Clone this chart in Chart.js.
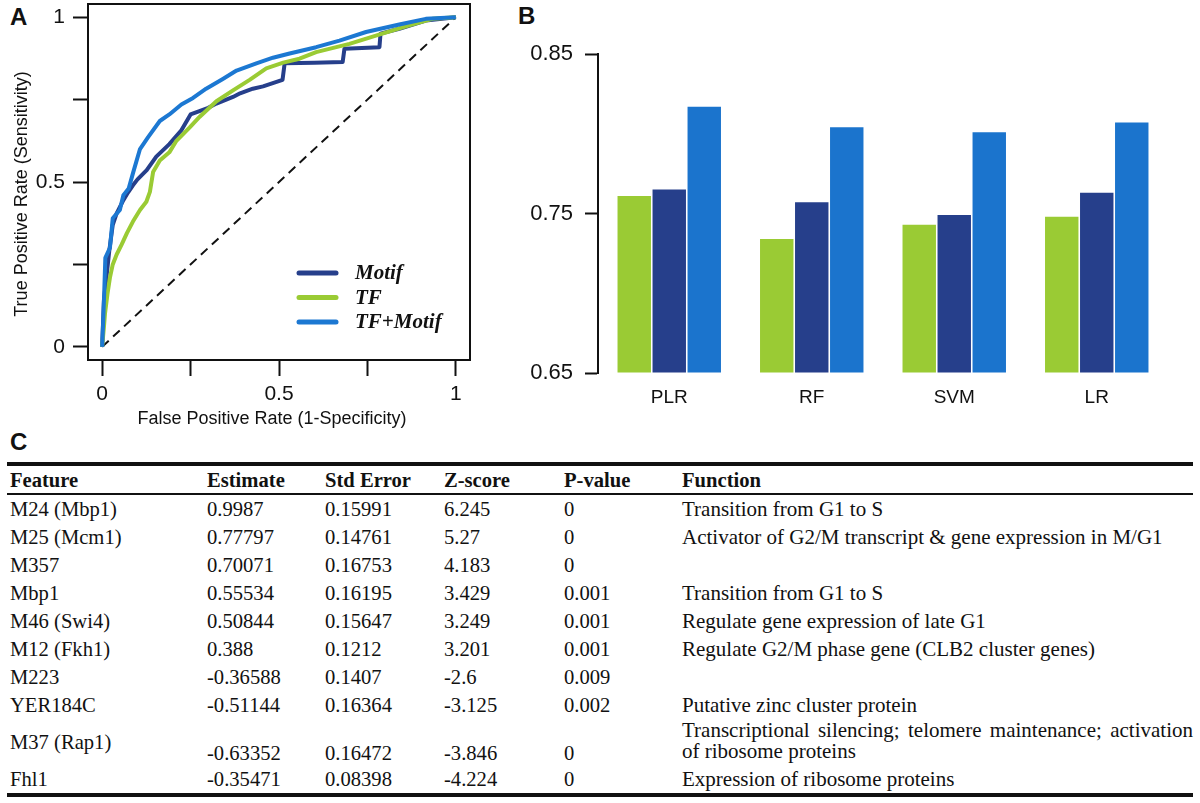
<!DOCTYPE html>
<html>
<head>
<meta charset="utf-8">
<script src="https://cdn.jsdelivr.net/npm/chart.js@4.4.1/dist/chart.umd.min.js"></script>
<style>
  html, body { margin: 0; padding: 0; background: #fff; }
  body { width: 1200px; height: 803px; position: relative; overflow: hidden; }
  .panel { position: absolute; font-family: 'Liberation Sans', Arial, sans-serif; font-weight: bold; font-size: 24px; line-height: 24px; color: #111; }
  canvas { position: absolute; }
  #rocChart { left: 0; top: 0; }
  #aucChart { left: 500px; top: 0; }
  #coefTable { position: absolute; left: 7px; top: 462px; width: 1186px; border-collapse: separate; border-spacing: 0; table-layout: fixed;
               font-family: 'Liberation Serif', 'Times New Roman', serif; font-size: 20.6px; color: #111; }
  #coefTable th, #coefTable td { padding: 0; text-align: left; white-space: nowrap; }
  #coefTable th { font-weight: bold; border-top: 4px solid #111; border-bottom: 2px solid #111; }
  #coefTable th div { padding: 2px 0 0 3px; height: 25px; line-height: 25px; }
  #coefTable td div.cell { padding-left: 3px; height: 28px; line-height: 28px; }
  #coefTable td div.fn { font-size: 21px; }
  #coefTable tr.tall td div.cell { height: 46px; line-height: 46px; }
  #coefTable tr.tall td div.low { padding-top: 22px; height: 24px; line-height: 24px; }
  #coefTable tr.tall td div.multi { padding-top: 1px; height: 45px; line-height: 21px; }
  #coefTable tr.tall td div.multi div.j { text-align: justify; text-align-last: justify; }
  #coefTable tr.last td { border-bottom: 4px solid #111; }
</style>
</head>
<body>
<div class="panel" style="left:10px; top:5px;">A</div>
<div class="panel" style="left:518px; top:4px;">B</div>
<div class="panel" style="left:10px; top:430px;">C</div>
<canvas id="rocChart" width="480" height="432"></canvas>
<canvas id="aucChart" width="700" height="430"></canvas>
<table id="coefTable"></table>
<script>
const GREEN = '#9acb34';
const NAVY = '#263f8b';
const BLUE = '#1c78d2';
const INK = '#111';
const SANS = "'Liberation Sans', Arial, Helvetica, sans-serif";
const SERIF = "'Liberation Serif', 'Times New Roman', serif";

// panel A - ROC curves, [false positive rate, true positive rate]
const motifRoc = [[0,0],[0.005,0.14],[0.013,0.22],[0.02,0.29],[0.03,0.37],[0.041,0.405],[0.06,0.445],
  [0.073,0.468],[0.087,0.49],[0.1,0.508],[0.126,0.536],[0.153,0.577],[0.19,0.615],[0.224,0.657],[0.25,0.705],
  [0.3,0.725],[0.323,0.738],[0.37,0.758],[0.39,0.769],[0.426,0.783],[0.455,0.79],[0.51,0.81],[0.516,0.86],
  [0.6,0.862],[0.68,0.864],[0.685,0.904],[0.784,0.909],[0.787,0.95],[0.84,0.965],[0.915,0.99],[1,1]];
const tfRoc = [[0,0],[0.005,0.06],[0.008,0.1],[0.015,0.16],[0.022,0.21],[0.03,0.25],[0.041,0.28],[0.055,0.31],
  [0.07,0.345],[0.087,0.38],[0.107,0.415],[0.125,0.44],[0.135,0.47],[0.144,0.53],[0.163,0.565],[0.19,0.59],
  [0.21,0.625],[0.247,0.665],[0.276,0.698],[0.323,0.745],[0.37,0.778],[0.417,0.81],[0.464,0.845],[0.512,0.862],
  [0.558,0.874],[0.605,0.894],[0.699,0.919],[0.774,0.944],[0.868,0.975],[0.934,0.995],[1,1]];
const bothRoc = [[0,0],[0.003,0.08],[0.006,0.17],[0.009,0.27],[0.022,0.3],[0.03,0.39],[0.05,0.415],[0.06,0.46],
  [0.075,0.48],[0.088,0.53],[0.107,0.6],[0.13,0.636],[0.163,0.685],[0.19,0.705],[0.224,0.735],[0.257,0.755],
  [0.294,0.783],[0.34,0.812],[0.38,0.838],[0.436,0.86],[0.483,0.877],[0.53,0.89],[0.605,0.909],[0.671,0.929],
  [0.746,0.955],[0.84,0.978],[0.915,0.995],[1,1]];
const chanceLine = [[0,0],[1,1]];
const rocTicks = [0, 0.25, 0.5, 0.75, 1];
const rocLabelled = [0, 0.5, 1];
const rocXTitle = 'False Positive Rate (1-Specificity)';
const rocYTitle = 'True Positive Rate (Sensitivity)';

// panel B - AUC per method
const methods = ['PLR', 'RF', 'SVM', 'LR'];
const aucTF = [0.761, 0.734, 0.743, 0.748];
const aucMotif = [0.765, 0.757, 0.749, 0.763];
const aucBoth = [0.817, 0.804, 0.801, 0.807];
const aucTicks = [0.65, 0.75, 0.85];

// panel C - coefficient table
const tableHeader = ['Feature', 'Estimate', 'Std Error', 'Z-score', 'P-value', 'Function'];
const features = ['M24 (Mbp1)', 'M25 (Mcm1)', 'M357', 'Mbp1', 'M46 (Swi4)', 'M12 (Fkh1)', 'M223', 'YER184C', 'M37 (Rap1)', 'Fhl1'];
const estimates = ['0.9987', '0.77797', '0.70071', '0.55534', '0.50844', '0.388', '-0.36588', '-0.51144', '-0.63352', '-0.35471'];
const stdErrors = ['0.15991', '0.14761', '0.16753', '0.16195', '0.15647', '0.1212', '0.1407', '0.16364', '0.16472', '0.08398'];
const zScores = ['6.245', '5.27', '4.183', '3.429', '3.249', '3.201', '-2.6', '-3.125', '-3.846', '-4.224'];
const pValues = ['0', '0', '0', '0.001', '0.001', '0.001', '0.009', '0.002', '0', '0'];
const functions = [
  'Transition from G1 to S',
  'Activator of G2/M transcript & gene expression in M/G1',
  '',
  'Transition from G1 to S',
  'Regulate gene expression of late G1',
  'Regulate G2/M phase gene (CLB2 cluster genes)',
  '',
  'Putative zinc cluster protein',
  'Transcriptional silencing; telomere maintenance; activation\nof ribosome proteins',
  'Expression of ribosome proteins'
];
const colWidths = [197, 118, 119, 120, 118, 514];

Chart.defaults.font.family = SANS;
Chart.defaults.color = INK;

const toXY = arr => arr.map(p => ({ x: p[0], y: p[1] }));

// R style box around the plot region
const boxFrame = {
  id: 'boxFrame',
  afterDatasetsDraw(chart) {
    const { ctx, chartArea: a } = chart;
    ctx.save();
    ctx.strokeStyle = INK;
    ctx.lineWidth = 2;
    ctx.strokeRect(a.left, a.top, a.right - a.left, a.bottom - a.top);
    ctx.restore();
  }
};

// axis titles, placed a little off-centre like the original figure
const rocTitles = {
  id: 'rocTitles',
  afterDraw(chart) {
    const ctx = chart.ctx;
    ctx.save();
    ctx.font = '18px ' + SANS;
    ctx.fillStyle = INK;
    ctx.textAlign = 'center';
    ctx.textBaseline = 'middle';
    ctx.fillText(rocXTitle, 272, 419);
    ctx.translate(22, 194);
    ctx.rotate(-Math.PI / 2);
    ctx.fillText(rocYTitle, 0, 0);
    ctx.restore();
  }
};

// legend sitting inside the plot, bottom right
const insideLegend = {
  id: 'insideLegend',
  afterDraw(chart) {
    const ctx = chart.ctx;
    const items = chart.data.datasets.filter(d => d.label);
    ctx.save();
    ctx.font = 'italic bold 21px ' + SERIF;
    ctx.textBaseline = 'middle';
    items.forEach((d, i) => {
      const y = 273 + i * 24.5;
      ctx.strokeStyle = d.borderColor;
      ctx.lineWidth = 5;
      ctx.lineCap = 'round';
      ctx.beginPath();
      ctx.moveTo(299, y);
      ctx.lineTo(336, y);
      ctx.stroke();
      ctx.fillStyle = INK;
      ctx.fillText(d.label, 355, y + 1);
    });
    ctx.restore();
  }
};

function rocLine(label, pts, color, order) {
  return { label: label, data: toXY(pts), borderColor: color, borderWidth: 4, pointRadius: 0,
           tension: 0, fill: false, order: order, borderJoinStyle: 'round' };
}

new Chart(document.getElementById('rocChart'), {
  type: 'line',
  data: {
    datasets: [
      rocLine('Motif', motifRoc, NAVY, 3),
      rocLine('TF', tfRoc, GREEN, 2),
      rocLine('TF+Motif', bothRoc, BLUE, 1),
      { label: '', data: toXY(chanceLine), borderColor: INK, borderWidth: 2, borderDash: [9, 6],
        pointRadius: 0, fill: false, order: 4 }
    ]
  },
  options: {
    responsive: false,
    animation: false,
    devicePixelRatio: 1,
    layout: { padding: { top: 4, right: 10, left: 0, bottom: 0 } },
    plugins: { legend: { display: false }, tooltip: { enabled: false } },
    scales: {
      x: {
        type: 'linear', min: -0.04, max: 1.04,
        afterBuildTicks: s => { s.ticks = rocTicks.map(v => ({ value: v })); },
        afterFit: s => { s.height = 72; s.paddingLeft = 0; s.paddingRight = 0; },
        grid: { drawOnChartArea: false, tickLength: 16, tickWidth: 2, tickColor: INK },
        border: { display: true, color: INK, width: 2 },
        ticks: { autoSkip: false, maxRotation: 0, padding: 6, font: { size: 21 }, color: INK,
                 callback: v => rocLabelled.includes(v) ? String(v) : '' }
      },
      y: {
        type: 'linear', min: -0.04, max: 1.04,
        afterBuildTicks: s => { s.ticks = rocTicks.map(v => ({ value: v })); },
        afterFit: s => { s.width = 88; s.paddingTop = 0; s.paddingBottom = 0; },
        grid: { drawOnChartArea: false, tickLength: 15, tickWidth: 2, tickColor: INK },
        border: { display: true, color: INK, width: 2 },
        ticks: { autoSkip: false, padding: 8, font: { size: 21 }, color: INK,
                 callback: v => rocLabelled.includes(v) ? String(v) : '' }
      }
    }
  },
  plugins: [boxFrame, rocTitles, insideLegend]
});

new Chart(document.getElementById('aucChart'), {
  type: 'bar',
  data: {
    labels: methods,
    datasets: [
      { label: 'TF', data: aucTF, backgroundColor: GREEN },
      { label: 'Motif', data: aucMotif, backgroundColor: NAVY },
      { label: 'TF+Motif', data: aucBoth, backgroundColor: '#1b74cd' }
    ]
  },
  options: {
    responsive: false,
    animation: false,
    devicePixelRatio: 1,
    layout: { padding: { top: 54, right: 32, left: 0, bottom: 0 } },
    datasets: { bar: { base: 0.65, categoryPercentage: 0.737, barPercentage: 0.955, borderWidth: 0 } },
    plugins: { legend: { display: false }, tooltip: { enabled: false } },
    scales: {
      x: {
        grid: { display: false, drawTicks: false },
        border: { display: false },
        afterFit: s => { s.height = 57; s.paddingLeft = 0; s.paddingRight = 0; },
        ticks: { padding: 13, font: { size: 19 }, color: INK }
      },
      y: {
        min: 0.65, max: 0.85,
        afterBuildTicks: s => { s.ticks = aucTicks.map(v => ({ value: v })); },
        afterFit: s => { s.width = 98; s.paddingTop = 0; s.paddingBottom = 0; },
        grid: { drawOnChartArea: false, tickLength: 13, tickWidth: 2, tickColor: INK },
        border: { display: true, color: INK, width: 2 },
        ticks: { padding: 12, font: { size: 22 }, color: INK, callback: v => v.toFixed(2) }
      }
    }
  }
});

// table C
const table = document.getElementById('coefTable');
let html = '<colgroup>' + colWidths.map(w => '<col style="width:' + w + 'px">').join('') + '</colgroup>';
html += '<thead><tr>' + tableHeader.map(h => '<th><div>' + h + '</div></th>').join('') + '</tr></thead><tbody>';
features.forEach((f, i) => {
  const fn = functions[i].replace(/&/g, '&amp;');
  const tall = fn.includes('\n');
  const cls = [tall ? 'tall' : '', i === features.length - 1 ? 'last' : ''].join(' ').trim();
  const vals = [estimates[i], stdErrors[i], zScores[i], pValues[i]];
  html += '<tr class="' + cls + '">';
  html += '<td><div class="cell">' + f + '</div></td>';
  vals.forEach(v => { html += '<td><div class="cell' + (tall ? ' low' : '') + '">' + v + '</div></td>'; });
  if (tall) {
    const lines = fn.split('\n');
    html += '<td><div class="cell fn multi">' + lines.map((l, k) =>
      '<div' + (k < lines.length - 1 ? ' class="j"' : '') + '>' + l + '</div>').join('') + '</div></td>';
  } else {
    html += '<td><div class="cell fn">' + fn + '</div></td>';
  }
  html += '</tr>';
});
html += '</tbody>';
table.innerHTML = html;
</script>
</body>
</html>
